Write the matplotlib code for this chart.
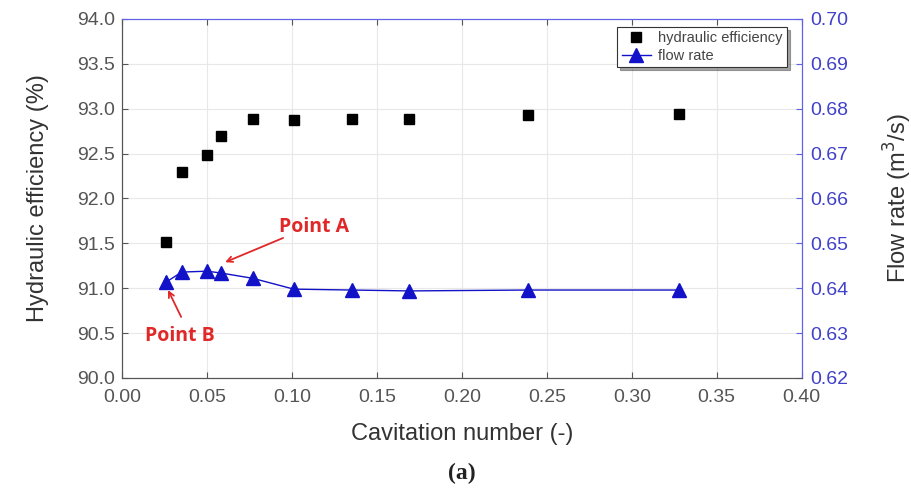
import matplotlib
matplotlib.use("Agg")
import matplotlib.pyplot as plt

plt.rcParams["font.family"] = ["Liberation Sans", "DejaVu Sans"]

# Datos
cavitacion = [0.026, 0.035, 0.050, 0.058, 0.077, 0.101, 0.135, 0.169, 0.239, 0.328]
eficiencia = [91.52, 92.29, 92.48, 92.70, 92.89, 92.87, 92.89, 92.89, 92.93, 92.94]
caudal = [0.6414, 0.6436, 0.6438, 0.6434, 0.6422, 0.6398, 0.6396, 0.6394, 0.6396, 0.6396]

xticks = [0.00, 0.05, 0.10, 0.15, 0.20, 0.25, 0.30, 0.35, 0.40]
yticks = [90.0, 90.5, 91.0, 91.5, 92.0, 92.5, 93.0, 93.5, 94.0]
y2ticks = [0.62, 0.63, 0.64, 0.65, 0.66, 0.67, 0.68, 0.69, 0.70]

azul = "#1212c8"
azul_eje = "#6060e8"
rojo = "#e02828"
gris = "#555555"

fig = plt.figure(figsize=(9.12, 4.99), dpi=100)
ax = fig.add_axes([0.134, 0.2425, 0.745, 0.7195])
ax2 = ax.twinx()

p1, = ax.plot(cavitacion, eficiencia, "s", color="black", markersize=7,
              label="hydraulic efficiency", zorder=3)
p2, = ax2.plot(cavitacion, caudal, "-^", color=azul, markersize=10, linewidth=1,
               label="flow rate", zorder=3)

ax.set_xlim(0, 0.40)
ax.set_ylim(90.0, 94.0)
ax2.set_ylim(0.62, 0.70)
ax.set_xticks(xticks)
ax.set_xticklabels([f"{v:.2f}" for v in xticks])
ax.set_yticks(yticks)
ax.set_yticklabels([f"{v:.1f}" for v in yticks])
ax2.set_yticks(y2ticks)
ax2.set_yticklabels([f"{v:.2f}" for v in y2ticks])

ax.grid(True, color="#e8e8e8", linewidth=0.8)
ax.set_axisbelow(True)

ax.tick_params(axis="both", direction="in", labelsize=14, colors=gris,
               top=True, length=4)
ax.tick_params(axis="x", pad=8)
ax.tick_params(axis="y", pad=5)
ax2.tick_params(axis="y", direction="in", labelsize=14, colors=azul_eje,
                length=4, pad=6)
ax2.tick_params(axis="y", labelcolor="#4040c8")

for a in (ax, ax2):
    a.spines["top"].set_color(azul_eje)
    a.spines["right"].set_color(azul_eje)
    a.spines["left"].set_color(gris)
    a.spines["bottom"].set_color(gris)

ax.set_xlabel("Cavitation number (-)", fontsize=17, color="#333333", labelpad=12)
ax.set_ylabel("Hydraulic efficiency (%)", fontsize=17, color="#333333", labelpad=20)
ax2.set_ylabel("Flow rate (m$^3$/s)", fontsize=17, color="#333333", labelpad=24)

# Anotaciones: texto y flecha por separado
ax.text(0.0924, 91.68, "Point A", color=rojo, fontsize=14, fontweight="bold",
        family="Open Sans", va="center", ha="left")
ax.annotate("", xy=(0.0606, 91.29), xytext=(0.0947, 91.56),
            arrowprops=dict(arrowstyle="->", color=rojo, lw=1.3,
                            shrinkA=0, shrinkB=0))
ax.text(0.0135, 90.47, "Point B", color=rojo, fontsize=14, fontweight="bold",
        family="Open Sans", va="center", ha="left")
ax.annotate("", xy=(0.027, 90.98), xytext=(0.0347, 90.68),
            arrowprops=dict(arrowstyle="->", color=rojo, lw=1.3,
                            shrinkA=0, shrinkB=0))

leg = ax.legend([p1, p2], ["hydraulic efficiency", "flow rate"], loc="upper right",
                fontsize=10.5, frameon=True, fancybox=False, shadow=True,
                borderpad=0.3, handlelength=2.0, handletextpad=0.5,
                labelspacing=0.25, borderaxespad=0.3,
                bbox_to_anchor=(0.985, 0.99))
leg.get_frame().set_edgecolor("#333333")
leg.get_frame().set_linewidth(0.8)
leg.set_zorder(10)
for t in leg.get_texts():
    t.set_color("#444444")

fig.text(0.506, 0.052, "(a)", fontsize=17, family="Liberation Serif",
         fontweight="bold", ha="center", va="center", color="#222222")

fig.savefig("out.png", dpi=100)
